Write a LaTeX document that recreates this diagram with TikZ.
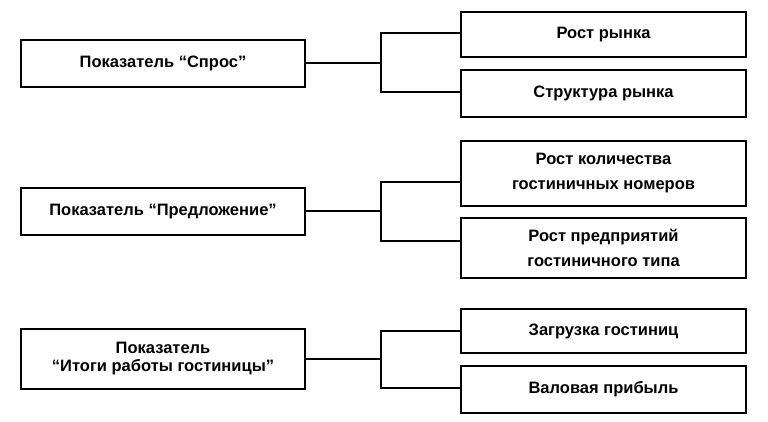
\documentclass[tikz,border=0pt]{standalone}
\usepackage{fontspec}
\setmainfont{Liberation Sans}
\begin{document}
\begin{tikzpicture}[x=1pt,y=-1pt,
  box/.style={draw, line width=2pt, align=center, inner sep=0pt,
    font=\bfseries\fontsize{16.5}{25}\selectfont},
  lbox/.style={box, minimum width=284pt},
  rbox/.style={box, minimum width=285pt},
  conn/.style={line width=2pt}]
\useasboundingbox (0,0) rectangle (768,422);
% left boxes
\node[lbox, minimum height=47pt] (L1) at (163,63.5) {Показатель “Спрос”};
\node[lbox, minimum height=47pt] (L2) at (163,211.5) {Показатель “Предложение”};
\node[lbox, minimum height=60pt, font=\bfseries\fontsize{16.5}{18}\selectfont] (L3) at (163,359) {Показатель\\“Итоги работы гостиницы”};
% right boxes
\node[rbox, minimum height=45pt] (R1) at (603.5,34.5) {Рост рынка};
\node[rbox, minimum height=47pt] (R2) at (603.5,93.5) {Структура рынка};
\node[rbox, minimum height=65pt] (R3) at (603.5,173.5) {Рост количества\\гостиничных номеров};
\node[rbox, minimum height=60pt] (R4) at (603.5,248) {Рост предприятий\\гостиничного типа};
\node[rbox, minimum height=44pt] (R5) at (603.5,331) {Загрузка гостиниц};
\node[rbox, minimum height=47pt] (R6) at (603.5,389.5) {Валовая прибыль};
% branch points
\coordinate (b1) at (381,63.5);
\coordinate (b2) at (381,211.5);
\coordinate (b3) at (381,359);
% connectors
\draw[conn] (L1.east) -- (b1);
\draw[conn] ([yshift=1.5pt]R1.west) -| (b1) |- ([yshift=1.5pt]R2.west);
\draw[conn] (L2.east) -- (b2);
\draw[conn] ([yshift=-8.5pt]R3.west) -| (b2) |- ([yshift=7pt]R4.west);
\draw[conn] (L3.east) -- (b3);
\draw[conn] (R5.west) -| (b3) |- ([yshift=1.5pt]R6.west);
\end{tikzpicture}
\end{document}
